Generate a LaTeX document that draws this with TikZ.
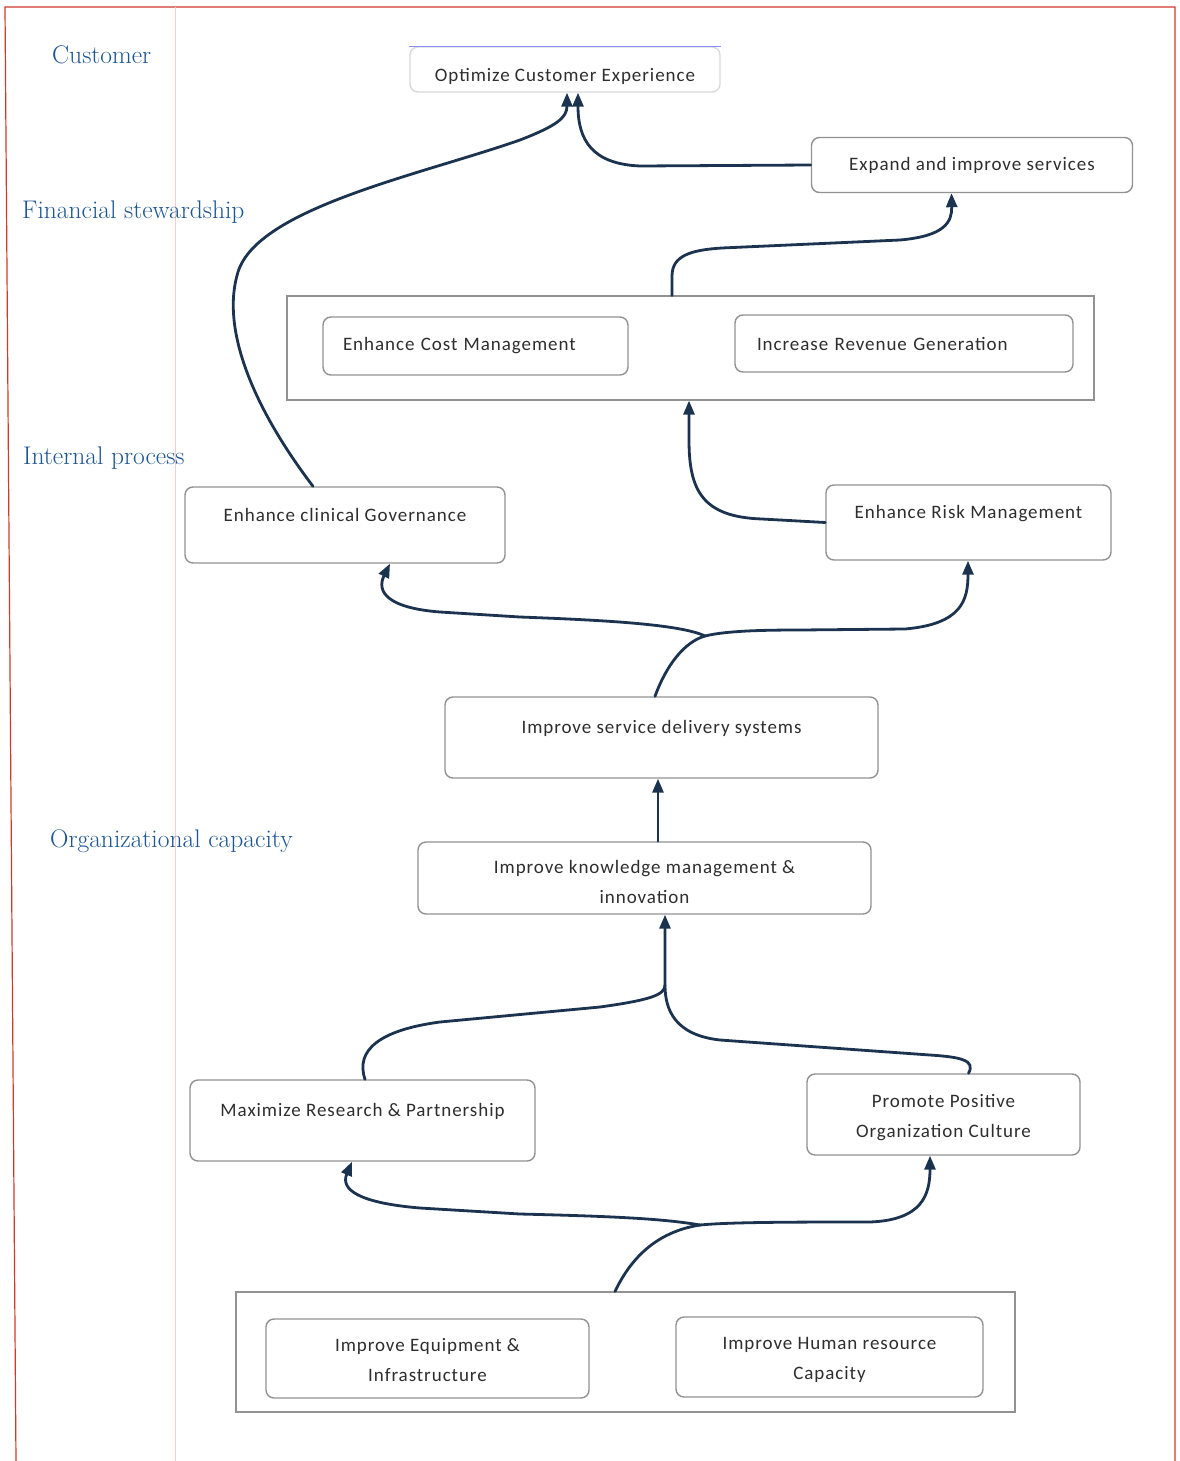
\documentclass[tikz,border=0pt]{standalone}
\usepackage{fontspec}
\usetikzlibrary{arrows.meta}
\newfontfamily\boxfont[LetterSpace=5]{Carlito}
\definecolor{lblblue}{HTML}{1D5595}
\definecolor{navy}{HTML}{1C3350}
\definecolor{boxgray}{HTML}{929292}
\definecolor{txtgray}{HTML}{2E2E2E}
\definecolor{redline}{HTML}{D03A2A}
\tikzset{
  lvl/.style={text=lblblue, font=\fontsize{25.5}{28}\selectfont, anchor=base west, inner sep=0pt},
  sbox/.style={draw=boxgray, line width=1.4pt, rounded corners=8pt, fill=white,
     text=txtgray, font={\boxfont\fontsize{19}{30}\selectfont}, align=center, inner sep=0pt},
  outerbox/.style={draw=boxgray, line width=1.2pt, fill=white, inner sep=0pt},
  hightext/.style={text height=15pt, text depth=23pt},
  twol/.style={text height=#1, text depth=5pt},
  conn/.style={draw=navy, line width=2.8pt, line cap=round},
  arr/.style={conn, -{Triangle[length=14pt,width=11pt]}}
}
\begin{document}
\begin{tikzpicture}[x=1pt,y=-1pt]
\useasboundingbox (0,0) rectangle (1180,1461);
\fill[white] (0,0) rectangle (1180,1461);
% scan frame
\draw[redline, line width=1.2pt] (16,1461) -- (5,7) -- (1175,7) -- (1175,1461);
\draw[red!20, line width=0.8pt] (175,7) -- (175,1461);

% level labels
\node[lvl] (lc) at (52,64) {Customer};
\node[lvl] (lf) at (22,218) {Financial stewardship};
\node[lvl] (li) at (23,464) {Internal process};
\node[lvl] (lo) at (50,847) {Organizational capacity};

% outer group boxes
\node[outerbox, minimum width=807pt, minimum height=104pt] (fin) at (690.5,348) {};
\node[outerbox, minimum width=779pt, minimum height=120pt] (cap) at (625.5,1352) {};

% boxes
\node[sbox, draw=boxgray!35, minimum width=310pt, minimum height=45pt, text height=12pt, text depth=0pt] (ocx) at (565,69.5) {\raisebox{-6pt}{Optimize Customer Experience}};
\draw[blue!45, line width=1.2pt] (ocx.north west) -- (ocx.north east);
\node[sbox, minimum width=321pt, minimum height=55pt] (exp) at (972,165) {Expand and improve services};
\node[sbox, minimum width=305pt, minimum height=58pt, text width=265pt, align=left] (ecm) at (475.5,346) {Enhance Cost Management};
\node[sbox, minimum width=338pt, minimum height=57pt, text width=294pt, align=left] (irg) at (904,343.5) {Increase Revenue Generation};
\node[sbox, hightext, minimum width=320pt, minimum height=76pt] (ecg) at (345,525) {Enhance clinical Governance};
\node[sbox, hightext, minimum width=285pt, minimum height=75pt] (erm) at (968.5,522.5) {Enhance Risk Management};
\node[sbox, hightext, minimum width=433pt, minimum height=81pt] (isd) at (661.5,737.5) {Improve service delivery systems};
\node[sbox, twol=55pt, minimum width=453pt, minimum height=72pt] (ikm) at (644.5,878) {Improve knowledge management \&\\innovation};
\node[sbox, hightext, minimum width=345pt, minimum height=81pt] (mrp) at (362.5,1120.5) {Maximize Research \& Partnership};
\node[sbox, twol=50pt, minimum width=273pt, minimum height=81pt] (ppc) at (943.5,1114.5) {Promote Positive\\Organization Culture};
\node[sbox, twol=50pt, minimum width=323pt, minimum height=79pt] (iei) at (427.5,1358.5) {Improve Equipment \&\\Infrastructure};
\node[sbox, twol=49pt, minimum width=307pt, minimum height=80pt] (ihr) at (829.5,1357) {Improve Human resource\\Capacity};

% branch points
\coordinate (eb) at (705,636);
\coordinate (gb) at (665,985);
\coordinate (hb) at (700,1225);

% connectors
\draw[arr] ([xshift=-32pt]ecg.north) .. controls (255,410) and (220,330) .. (238,272)
   .. controls (258,208) and (420,175) .. (520,140)
   .. controls (556,126) and (567,118) .. ([xshift=2pt]ocx.south);
\draw[arr] (exp.west) -- (640,166) .. controls (592,164) and (578,140) .. ([xshift=13pt]ocx.south);
\draw[arr] ([xshift=-18.5pt]fin.north) -- (672,276) .. controls (672,256) and (690,250) .. (722,248)
   -- (900,240) .. controls (945,236) and (952,222) .. ([xshift=-20.5pt]exp.south);
\draw[arr] (erm.west) -- (762,519) .. controls (702,517) and (689,490) .. (689,440) -- ([xshift=-1.5pt]fin.south);
\draw[conn] ([xshift=-6.5pt]isd.north) .. controls (666,666) and (684,642) .. (eb);
\draw[arr] (eb) .. controls (680,624) and (600,620) .. (520,617) -- (440,612)
   .. controls (388,608) and (376,592) .. ([xshift=45pt]ecg.south);
\draw[arr] (eb) .. controls (725,631) and (760,630) .. (800,630) -- (905,629)
   .. controls (962,624) and (968,600) .. ([xshift=-0.5pt]erm.south);
\draw[arr] ([xshift=13.5pt]ikm.north) -- ([xshift=13.5pt]ikm.north |- isd.south);
\draw[arr] ([xshift=2.5pt]mrp.north) .. controls (355,1050) and (380,1030) .. (440,1022)
   -- (600,1007) .. controls (650,1000) and (665,995) .. (gb) -- (gb |- ikm.south);
\draw[conn] ([xshift=25pt]ppc.north) .. controls (976,1060) and (960,1057) .. (930,1055)
   -- (720,1040) .. controls (675,1035) and (665,1010) .. (gb);
\draw[conn] ([xshift=-10.5pt]cap.north) .. controls (630,1260) and (655,1232) .. (hb);
\draw[arr] (hb) .. controls (660,1218) and (600,1216) .. (520,1214) -- (420,1208)
   .. controls (360,1203) and (340,1190) .. ([xshift=-10.5pt]mrp.south);
\draw[arr] (hb) .. controls (730,1222) and (800,1222) .. (870,1222)
   .. controls (922,1220) and (930,1195) .. ([xshift=-13.5pt]ppc.south);
\end{tikzpicture}
\end{document}
